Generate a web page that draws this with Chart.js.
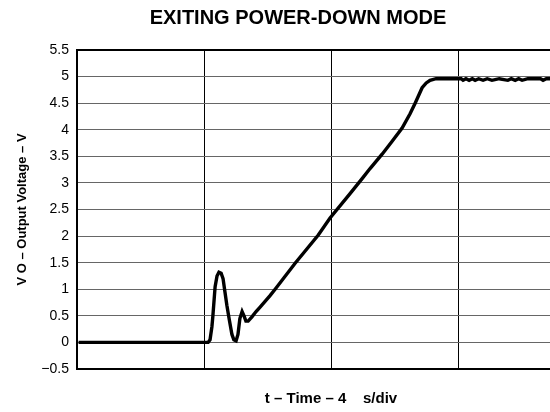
<!DOCTYPE html>
<html lang="en">
<head>
    <meta charset="UTF-8">
    <title>Exiting Power-Down Mode</title>
    <script src="https://cdn.jsdelivr.net/npm/chart.js"></script>
    <style>
        body { margin: 0; background: #fff; overflow: hidden; }
        .wrap { width: 596px; height: 412px; }
    </style>
</head>
<body>
    <div class="wrap">
        <canvas id="vout" width="596" height="412"></canvas>
    </div>

    <script>
        // time in microseconds (4 us per division), output voltage in volts
        const timeUs = [
            0.05, 4.13, 4.19, 4.25, 4.28, 4.35, 4.41, 4.47, 4.54, 4.60,
            4.66, 4.72, 4.79, 4.88, 4.94, 5.01, 5.07, 5.13, 5.20, 5.26,
            5.32, 5.39, 5.51, 5.64, 5.76, 6.08, 6.24, 6.87, 7.60, 7.97,
            8.60, 8.98, 9.23, 9.61, 9.92, 10.24, 10.49, 10.65, 10.87,
            11.00, 11.12, 11.31, 11.60, 12.10, 12.16, 12.25, 12.35, 12.45, 12.54,
            12.65, 12.79, 12.92, 13.07, 13.30, 13.57, 13.68, 13.80, 13.91, 14.02,
            14.20, 14.60, 14.68, 14.78, 16.00
        ];
        const voltage = [
            0, 0, 0.05, 0.3, 0.5, 1.05, 1.25, 1.32, 1.3, 1.2,
            0.95, 0.7, 0.45, 0.15, 0.05, 0.03, 0.15, 0.45, 0.58, 0.5,
            0.4, 0.4, 0.48, 0.58, 0.66, 0.88, 1.0, 1.49, 2.02, 2.34,
            2.80, 3.08, 3.27, 3.54, 3.78, 4.03, 4.3, 4.5, 4.79,
            4.88, 4.93, 4.96, 4.96, 4.96, 4.93, 4.96, 4.93, 4.96, 4.93,
            4.96, 4.93, 4.96, 4.93, 4.96, 4.93, 4.96, 4.93, 4.96, 4.93,
            4.96, 4.96, 4.93, 4.96, 4.96
        ];
        const yTicks = [-0.5, 0, 0.5, 1, 1.5, 2, 2.5, 3, 3.5, 4, 4.5, 5, 5.5];

        const points = timeUs.map((t, i) => ({ x: t, y: voltage[i] }));

        new Chart(document.getElementById('vout').getContext('2d'), {
            type: 'line',
            data: {
                datasets: [{
                    data: points,
                    borderColor: '#000',
                    borderWidth: 3.4,
                    pointRadius: 0,
                    tension: 0,
                    fill: false
                }]
            },
            options: {
                responsive: false,
                animation: false,
                layout: { padding: { left: 11, right: 11, top: 0, bottom: 0 } },
                plugins: {
                    legend: { display: false },
                    tooltip: { enabled: false },
                    title: {
                        display: true,
                        text: 'EXITING POWER-DOWN MODE',
                        color: '#000',
                        font: { family: 'Liberation Sans, Arial, sans-serif', size: 20, weight: 'bold' },
                        padding: { top: 6, bottom: 20 }
                    }
                },
                scales: {
                    x: {
                        type: 'linear',
                        min: 0,
                        max: 16,
                        ticks: { display: false, stepSize: 4 },
                        grid: { color: '#000', lineWidth: 1, drawTicks: false },
                        border: { color: '#000', width: 2 },
                        title: {
                            display: true,
                            text: 't \u2013 Time \u2013 4    s/div',
                            color: '#000',
                            font: { family: 'Liberation Sans, Arial, sans-serif', size: 15, weight: 'bold' },
                            padding: { top: 21, bottom: 4 }
                        }
                    },
                    y: {
                        min: -0.5,
                        max: 5.5,
                        afterBuildTicks: scale => { scale.ticks = yTicks.map(v => ({ value: v })); },
                        afterFit: scale => { scale.width = 66; },
                        ticks: {
                            color: '#000',
                            padding: 8,
                            font: { family: 'Liberation Sans, Arial, sans-serif', size: 14 },
                            callback: v => v < 0 ? '\u2212' + Math.abs(v) : String(v)
                        },
                        grid: {
                            drawTicks: false,
                            color: c => c.tick && c.tick.value === 5.5 ? '#000' : '#666',
                            lineWidth: c => c.tick && c.tick.value === 5.5 ? 2 : 1
                        },
                        border: { color: '#000', width: 2 },
                        title: {
                            display: true,
                            text: 'V O \u2013 Output Voltage \u2013 V',
                            color: '#000',
                            font: { family: 'Liberation Sans, Arial, sans-serif', size: 13, weight: 'bold' },
                            padding: { top: 4, bottom: 0 }
                        }
                    }
                }
            }
        });
    </script>
</body>
</html>
